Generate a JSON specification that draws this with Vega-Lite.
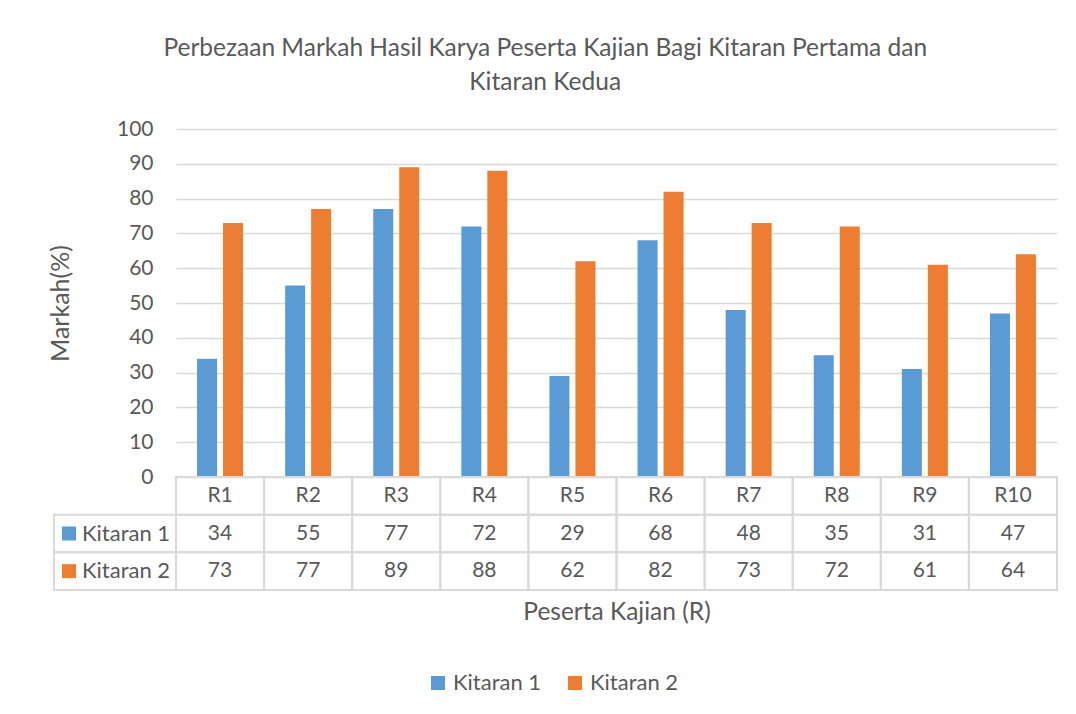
{
  "$schema": "https://vega.github.io/schema/vega-lite/v6.json",
  "background": "white",
  "padding": {"left": 48, "top": 35, "right": 10, "bottom": 10},
  "config": {
    "font": "Lato",
    "view": {"stroke": null},
    "axis": {"labelColor": "#595959", "titleColor": "#595959", "labelFont": "Lato", "titleFont": "Lato", "titleFontWeight": "normal"},
    "text": {"color": "#595959", "font": "Lato"},
    "legend": {"layout": {"bottom": {"anchor": "middle"}}}
  },
  "title": {
    "text": ["Perbezaan Markah Hasil Karya Peserta Kajian Bagi Kitaran Pertama dan", "Kitaran Kedua"],
    "fontSize": 24.5,
    "fontWeight": "normal",
    "font": "Lato",
    "color": "#595959",
    "lineHeight": 34,
    "anchor": "middle",
    "offset": 23,
    "dx": -8
  },
  "datasets": {
    "rows": [
      {"R": "R1", "series": "Kitaran 1", "value": 34},
      {"R": "R2", "series": "Kitaran 1", "value": 55},
      {"R": "R3", "series": "Kitaran 1", "value": 77},
      {"R": "R4", "series": "Kitaran 1", "value": 72},
      {"R": "R5", "series": "Kitaran 1", "value": 29},
      {"R": "R6", "series": "Kitaran 1", "value": 68},
      {"R": "R7", "series": "Kitaran 1", "value": 48},
      {"R": "R8", "series": "Kitaran 1", "value": 35},
      {"R": "R9", "series": "Kitaran 1", "value": 31},
      {"R": "R10", "series": "Kitaran 1", "value": 47},
      {"R": "R1", "series": "Kitaran 2", "value": 73},
      {"R": "R2", "series": "Kitaran 2", "value": 77},
      {"R": "R3", "series": "Kitaran 2", "value": 89},
      {"R": "R4", "series": "Kitaran 2", "value": 88},
      {"R": "R5", "series": "Kitaran 2", "value": 62},
      {"R": "R6", "series": "Kitaran 2", "value": 82},
      {"R": "R7", "series": "Kitaran 2", "value": 73},
      {"R": "R8", "series": "Kitaran 2", "value": 72},
      {"R": "R9", "series": "Kitaran 2", "value": 61},
      {"R": "R10", "series": "Kitaran 2", "value": 64}
    ]
  },
  "columns": 2,
  "spacing": 0,
  "bounds": "flush",
  "concat": [
    {
      "width": 122,
      "height": 348,
      "data": {"values": [{}]},
      "mark": {"type": "point", "opacity": 0},
      "encoding": {}
    },
    {
      "width": 881,
      "height": 348,
      "data": {"name": "rows"},
      "mark": {"type": "bar"},
      "encoding": {
        "x": {"field": "R", "type": "nominal", "sort": ["R1","R2","R3","R4","R5","R6","R7","R8","R9","R10"], "scale": {"paddingInner": 0, "paddingOuter": 0}, "axis": null},
        "xOffset": {"field": "series", "type": "nominal", "scale": {"paddingInner": 0.23, "paddingOuter": 0.81}},
        "y": {
          "field": "value", "type": "quantitative",
          "scale": {"domain": [0, 100]},
          "axis": {
            "values": [0,10,20,30,40,50,60,70,80,90,100],
            "title": "Markah(%)",
            "grid": true, "gridColor": "#D9D9D9", "gridWidth": 1.5,
            "domain": false, "ticks": false,
            "labelFontSize": 21, "labelPadding": 23,
            "titleFontSize": 25, "titlePadding": 43
          }
        },
        "color": {
          "field": "series", "type": "nominal",
          "scale": {"domain": ["Kitaran 1", "Kitaran 2"], "range": ["#5B9BD5", "#ED7D31"]},
          "legend": {
            "orient": "bottom", "direction": "horizontal", "title": null,
            "symbolType": "square", "symbolSize": 196, "symbolStrokeWidth": 0,
            "labelFontSize": 22, "labelColor": "#595959", "labelFont": "Lato",
            "columnPadding": 22, "offset": 48
          }
        }
      }
    },
    {
      "width": 122,
      "height": 113,
      "data": {"name": "rows"},
      "transform": [{"filter": "datum.R === 'R1'"}],
      "encoding": {
        "y": {"field": "series", "type": "nominal", "scale": {"domain": [" ", "Kitaran 1", "Kitaran 2"], "paddingInner": 0, "paddingOuter": 0}, "axis": null}
      },
      "layer": [
        {"mark": {"type": "rect", "fill": "transparent", "stroke": "#D9D9D9", "strokeWidth": 2}},
        {"mark": {"type": "point", "shape": "square", "filled": true, "size": 196, "opacity": 1, "xOffset": -46},
         "encoding": {"color": {"field": "series", "type": "nominal"}}},
        {"mark": {"type": "text", "align": "left", "fontSize": 22, "xOffset": -33},
         "encoding": {"text": {"field": "series"}}}
      ]
    },
    {
      "width": 881,
      "height": 113,
      "encoding": {
        "x": {"field": "R", "type": "nominal", "sort": ["R1","R2","R3","R4","R5","R6","R7","R8","R9","R10"], "scale": {"paddingInner": 0, "paddingOuter": 0},
              "axis": {"title": "Peserta Kajian (R)", "labels": false, "ticks": false, "domain": false, "titleFontSize": 24.5, "titlePadding": 10}}
      },
      "layer": [
        {
          "data": {"name": "rows"},
          "mark": {"type": "rect", "fill": "transparent", "stroke": "#D9D9D9", "strokeWidth": 2},
          "encoding": {"y": {"field": "series", "type": "nominal", "scale": {"domain": [" ", "Kitaran 1", "Kitaran 2"], "paddingInner": 0, "paddingOuter": 0}, "axis": null}}
        },
        {
          "data": {"name": "rows"},
          "transform": [{"filter": "datum.series === 'Kitaran 1'"}],
          "mark": {"type": "rect", "fill": "transparent", "stroke": "#D9D9D9", "strokeWidth": 2},
          "encoding": {"y": {"datum": " ", "type": "nominal"}}
        },
        {
          "data": {"name": "rows"},
          "mark": {"type": "text", "fontSize": 21},
          "encoding": {"y": {"field": "series", "type": "nominal"}, "text": {"field": "value", "type": "quantitative"}}
        },
        {
          "data": {"name": "rows"},
          "transform": [{"filter": "datum.series === 'Kitaran 1'"}],
          "mark": {"type": "text", "fontSize": 21},
          "encoding": {"y": {"datum": " ", "type": "nominal"}, "text": {"field": "R", "type": "nominal"}}
        }
      ]
    }
  ]
}
